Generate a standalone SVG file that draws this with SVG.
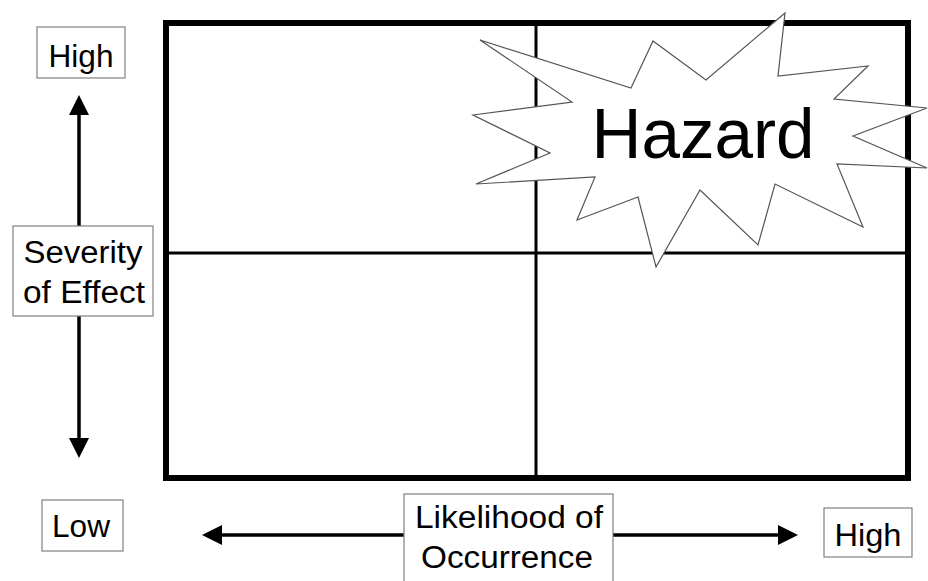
<svg xmlns="http://www.w3.org/2000/svg" width="928" height="581" viewBox="0 0 928 581">
<defs>
<style>
.lbl{fill:#fff;stroke:#808080;stroke-width:1.2}
.t{font-family:"Liberation Sans",Arial,sans-serif;font-size:31px;fill:#000;text-anchor:middle}
.ax{stroke:#000;stroke-width:3.5;fill:none}
.grid{fill:none;stroke:#000}
</style>
<marker id="ah" viewBox="0 0 20 20" refX="0" refY="10" markerWidth="20" markerHeight="20" markerUnits="userSpaceOnUse" orient="auto">
<path d="M0,0 L20,10 L0,20 z" fill="#000"/>
</marker>
</defs>
<rect width="928" height="581" fill="#fff"/>
<g id="grid">
<rect class="grid" x="166" y="23" width="742" height="455" stroke-width="6"/>
<line class="grid" x1="536" y1="23" x2="536" y2="478" stroke-width="3"/>
<line class="grid" x1="166" y1="253" x2="908" y2="253" stroke-width="3"/>
</g>
<g id="connectors">
<line class="ax" x1="79" y1="227" x2="79" y2="115" marker-end="url(#ah)"/>
<line class="ax" x1="79" y1="316" x2="79" y2="438" marker-end="url(#ah)"/>
<line class="ax" x1="404" y1="535" x2="222" y2="535" marker-end="url(#ah)"/>
<line class="ax" x1="613" y1="535" x2="778" y2="535" marker-end="url(#ah)"/>
</g>
<g id="hazard">
<polygon points="785,13 778,76 868,66 834,99 927,108 853,136 927,168 837,164 863,227 775,184 758,245 700,190 656,267 638,197 577,220 595,177 476,184 550,153 473,115 572,102 480,40 631,88 653,41 706,80" fill="#fff" stroke="#555" stroke-width="1.2" stroke-linejoin="miter"/>
<text class="t" x="703" y="158" style="font-size:70px" textLength="223" lengthAdjust="spacingAndGlyphs">Hazard</text>
</g>
<g id="sev-high">
<rect class="lbl" x="37" y="27" width="88" height="51"/>
<text class="t" x="81" y="67" textLength="65" lengthAdjust="spacingAndGlyphs">High</text>
</g>
<g id="severity">
<rect class="lbl" x="13" y="226" width="140" height="90"/>
<text class="t" x="83" y="263" textLength="119" lengthAdjust="spacingAndGlyphs">Severity</text>
<text class="t" x="84" y="303" textLength="122" lengthAdjust="spacingAndGlyphs">of Effect</text>
</g>
<g id="low">
<rect class="lbl" x="42" y="500" width="81" height="51"/>
<text class="t" x="81" y="537" textLength="58" lengthAdjust="spacingAndGlyphs">Low</text>
</g>
<g id="likelihood">
<rect class="lbl" x="404" y="494" width="209" height="100"/>
<text class="t" x="509" y="528" textLength="188" lengthAdjust="spacingAndGlyphs">Likelihood of</text>
<text class="t" x="507" y="568" textLength="172" lengthAdjust="spacingAndGlyphs">Occurrence</text>
</g>
<g id="like-high">
<rect class="lbl" x="824" y="508" width="88" height="49"/>
<text class="t" x="868" y="546" textLength="67" lengthAdjust="spacingAndGlyphs">High</text>
</g>
</svg>
